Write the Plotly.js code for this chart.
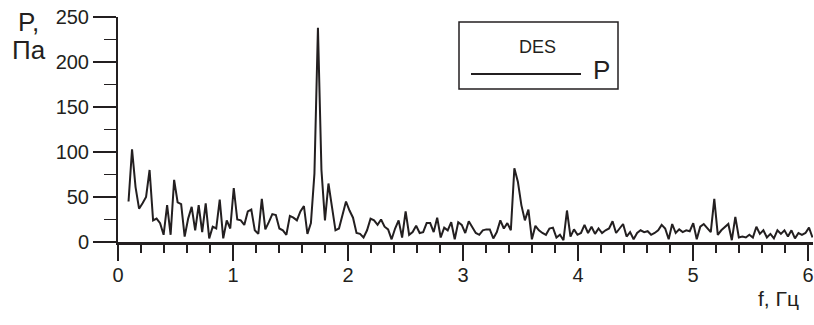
<!DOCTYPE html>
<html>
<head>
<meta charset="utf-8">
<script src="https://cdn.plot.ly/plotly-3.0.1.min.js"></script>
<style>html,body{margin:0;padding:0;background:#fff;}#chart{width:814px;height:325px;}</style>
</head>
<body>
<div id="chart"></div>
<script>
// Spectrum of pressure P (Pa) vs frequency f (Hz), DES
const FREQ_START = 0.0916;   // Hz, first spectral line
const FREQ_STEP = 0.0305;    // Hz, spectral resolution
const pressure = [
  45, 103, 61, 37, 43, 50, 80, 24, 26, 21,
  8, 41, 8, 69, 44, 42, 6, 26, 39, 13,
  41, 11, 43, 4, 17, 15, 47, 4, 24, 15,
  60, 25, 24, 19, 34, 36, 13, 9, 48, 14,
  22, 31, 30, 15, 13, 8, 29, 27, 24, 34,
  40, 9, 21, 76, 238, 80, 24, 65, 39, 13,
  15, 30, 45, 35, 27, 10, 9, 5, 13, 26,
  24, 19, 25, 17, 14, 3, 15, 24, 5, 34,
  8, 11, 18, 10, 11, 21, 21, 11, 27, 5,
  16, 13, 22, 3, 22, 19, 10, 23, 17, 10,
  8, 13, 14, 14, 4, 11, 24, 15, 21, 13,
  82, 67, 41, 24, 36, 3, 18, 13, 10, 8,
  15, 16, 5, 8, 2, 35, 6, 14, 8, 10,
  19, 10, 17, 9, 15, 10, 13, 15, 23, 10,
  15, 20, 6, 11, 3, 10, 13, 11, 12, 8,
  10, 13, 19, 15, 3, 20, 10, 14, 11, 13,
  12, 21, 3, 17, 20, 15, 11, 48, 8, 13,
  17, 20, 2, 28, 5, 6, 5, 8, 5, 17,
  9, 13, 5, 9, 4, 13, 9, 13, 6, 13,
  4, 10, 8, 10, 16, 5
];
const seriesName = 'P';
const legendTitle = 'DES';
const yTitleLines = ['P,', 'Па'];
const xTitle = 'f, Гц';

const INK = '#231f20';
const FONT = 'Liberation Sans, Arial, Helvetica, sans-serif';
const W = 814, H = 325;
const M = {l: 118, r: 1, t: 17, b: 83};
const PW = W - M.l - M.r, PH = H - M.t - M.b;
const px = x => (x - M.l) / PW;          // pixel -> paper x
const py = y => (H - M.b - y) / PH;       // pixel -> paper y

const trace = {
  type: 'scatter', mode: 'lines', name: seriesName,
  x0: FREQ_START, dx: FREQ_STEP, y: pressure,
  line: {color: INK, width: 2}, showlegend: false, hoverinfo: 'x+y'
};

const layout = {
  width: W, height: H, margin: M,
  paper_bgcolor: '#fff', plot_bgcolor: '#fff',
  showlegend: false,
  font: {family: FONT, color: INK},
  xaxis: {
    range: [0, PW / 115], showline: true, linewidth: 2.5, linecolor: INK,
    ticks: 'outside', ticklen: 16, tickwidth: 1.5, tickcolor: INK,
    ticklabelstandoff: -3,
    tick0: 0, dtick: 1, showgrid: false, zeroline: false,
    minor: {ticks: 'outside', ticklen: 8, tickwidth: 1.5, tickcolor: INK, dtick: 0.2, showgrid: false},
    tickfont: {family: FONT, size: 20, color: INK}
  },
  yaxis: {
    range: [0, 250], showline: true, linewidth: 2, linecolor: INK,
    ticks: 'outside', ticklen: 23, tickwidth: 1.5, tickcolor: INK,
    tick0: 0, dtick: 50, showgrid: false, zeroline: false,
    minor: {ticks: 'outside', ticklen: 12, tickwidth: 1.5, tickcolor: INK, dtick: 25, showgrid: false},
    tickfont: {family: FONT, size: 20, color: INK}
  },
  shapes: [
    {type: 'rect', xref: 'paper', yref: 'paper', x0: px(459), x1: px(618), y0: py(89), y1: py(22),
     line: {color: INK, width: 1.5}, fillcolor: 'rgba(0,0,0,0)'},
    {type: 'line', xref: 'paper', yref: 'paper', x0: px(471), x1: px(581), y0: py(74), y1: py(74),
     line: {color: INK, width: 2}}
  ],
  annotations: [
    {xref: 'paper', yref: 'paper', x: px(537.5), y: py(47), text: legendTitle, showarrow: false,
     xanchor: 'center', yanchor: 'middle', font: {family: FONT, size: 18, color: INK}},
    {xref: 'paper', yref: 'paper', x: px(591), y: py(70), text: seriesName, showarrow: false,
     xanchor: 'left', yanchor: 'middle', font: {family: FONT, size: 26, color: INK}},
    {xref: 'paper', yref: 'paper', x: px(16), y: py(22), text: yTitleLines[0], showarrow: false,
     xanchor: 'left', yanchor: 'middle', font: {family: FONT, size: 26, color: INK}},
    {xref: 'paper', yref: 'paper', x: px(10), y: py(50), text: yTitleLines[1], showarrow: false,
     xanchor: 'left', yanchor: 'middle', font: {family: FONT, size: 26, color: INK}},
    {xref: 'paper', yref: 'paper', x: px(778), y: py(298), text: xTitle, showarrow: false,
     xanchor: 'center', yanchor: 'middle', font: {family: FONT, size: 21, color: INK}}
  ]
};

Plotly.newPlot('chart', [trace], layout, {staticPlot: true, displayModeBar: false});
</script>
</body>
</html>
